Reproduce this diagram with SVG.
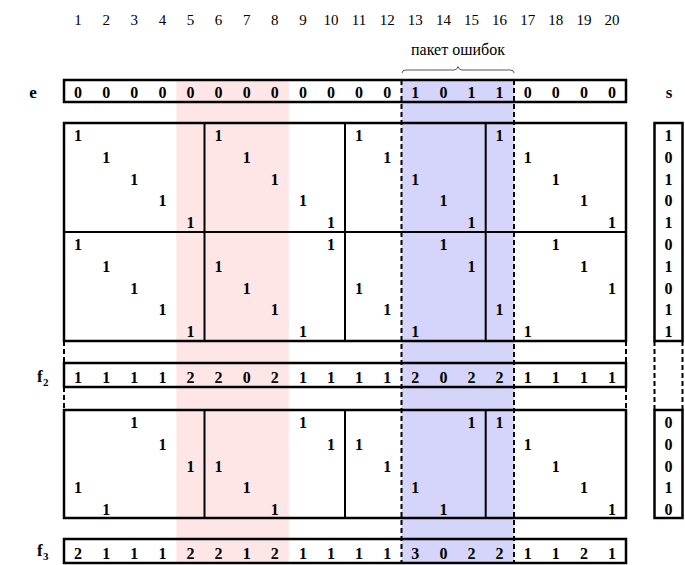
<svg xmlns="http://www.w3.org/2000/svg" width="685" height="565" viewBox="0 0 685 565" font-family="'Liberation Serif', 'DejaVu Serif', serif">
<style>
.hd{font-size:15px;text-anchor:middle;fill:#000}
.d{font-size:16px;font-weight:bold;text-anchor:middle;fill:#000}
.lb{font-size:17px;font-weight:bold;fill:#000}
.sub{font-size:11px;font-weight:bold;fill:#000}
.box{fill:none;stroke:#000;stroke-width:2.5}
.ln{fill:none;stroke:#000;stroke-width:2}
.dash{fill:none;stroke:#000;stroke-width:2;stroke-dasharray:5 3}
</style>
<rect width="685" height="565" fill="#fff"/>
<g id="bands">
<rect x="176.4" y="80" width="112.4" height="483" fill="#ffe6e6"/>
<rect x="401.5" y="80" width="112.5" height="483" fill="#d5d5fb"/>
</g>
<g id="header">
<text class="hd" x="78.1" y="25">1</text><text class="hd" x="106.2" y="25">2</text><text class="hd" x="134.3" y="25">3</text><text class="hd" x="162.4" y="25">4</text><text class="hd" x="190.5" y="25">5</text><text class="hd" x="218.6" y="25">6</text><text class="hd" x="246.7" y="25">7</text><text class="hd" x="274.8" y="25">8</text><text class="hd" x="302.9" y="25">9</text><text class="hd" x="331" y="25">10</text><text class="hd" x="359.1" y="25">11</text><text class="hd" x="387.2" y="25">12</text><text class="hd" x="415.3" y="25">13</text><text class="hd" x="443.4" y="25">14</text><text class="hd" x="471.5" y="25">15</text><text class="hd" x="499.6" y="25">16</text><text class="hd" x="527.7" y="25">17</text><text class="hd" x="555.8" y="25">18</text><text class="hd" x="583.9" y="25">19</text><text class="hd" x="612" y="25">20</text>
<text class="hd" x="458" y="55" style="font-size:16px">пакет ошибок</text>
<path d="M402,73 Q402,70 406,70 L454,70 Q457,70 458,66.5 Q459,70 462,70 L510,70 Q514,70 514,73" fill="none" stroke="#555" stroke-width="1"/>
</g>
<g id="labels">
<text class="lb" x="33" y="98" text-anchor="middle">e</text>
<text class="lb" x="669" y="98" text-anchor="middle">s</text>
<text class="lb" x="37" y="382">f</text><text class="sub" x="43" y="386">2</text>
<text class="lb" x="37" y="556">f</text><text class="sub" x="43" y="560">3</text>
</g>
<g id="row-e">
<rect class="box" x="64" y="80" width="562" height="22"/>
<text class="d" y="97.5"><tspan x="78.1">0</tspan><tspan x="106.2">0</tspan><tspan x="134.3">0</tspan><tspan x="162.4">0</tspan><tspan x="190.5">0</tspan><tspan x="218.6">0</tspan><tspan x="246.7">0</tspan><tspan x="274.8">0</tspan><tspan x="302.9">0</tspan><tspan x="331">0</tspan><tspan x="359.1">0</tspan><tspan x="387.2">0</tspan><tspan x="415.3">1</tspan><tspan x="443.4">0</tspan><tspan x="471.5">1</tspan><tspan x="499.6">1</tspan><tspan x="527.7">0</tspan><tspan x="555.8">0</tspan><tspan x="583.9">0</tspan><tspan x="612">0</tspan></text>
</g>
<g id="matrix-1">
<rect class="box" x="64" y="123" width="562" height="218"/>
<path class="ln" d="M64,232 H626 M204.5,123 V341 M345,123 V341 M485.7,123 V341"/>
<text class="d" y="141"><tspan x="78.1">1</tspan><tspan x="218.6">1</tspan><tspan x="359.1">1</tspan><tspan x="499.6">1</tspan></text>
<text class="d" y="162.8"><tspan x="106.2">1</tspan><tspan x="246.7">1</tspan><tspan x="387.2">1</tspan><tspan x="527.7">1</tspan></text>
<text class="d" y="184.6"><tspan x="134.3">1</tspan><tspan x="274.8">1</tspan><tspan x="415.3">1</tspan><tspan x="555.8">1</tspan></text>
<text class="d" y="206.4"><tspan x="162.4">1</tspan><tspan x="302.9">1</tspan><tspan x="443.4">1</tspan><tspan x="583.9">1</tspan></text>
<text class="d" y="228.2"><tspan x="190.5">1</tspan><tspan x="331">1</tspan><tspan x="471.5">1</tspan><tspan x="612">1</tspan></text>
<text class="d" y="250"><tspan x="78.1">1</tspan><tspan x="331">1</tspan><tspan x="443.4">1</tspan><tspan x="555.8">1</tspan></text>
<text class="d" y="271.8"><tspan x="106.2">1</tspan><tspan x="218.6">1</tspan><tspan x="471.5">1</tspan><tspan x="583.9">1</tspan></text>
<text class="d" y="293.6"><tspan x="134.3">1</tspan><tspan x="246.7">1</tspan><tspan x="359.1">1</tspan><tspan x="612">1</tspan></text>
<text class="d" y="315.4"><tspan x="162.4">1</tspan><tspan x="274.8">1</tspan><tspan x="387.2">1</tspan><tspan x="499.6">1</tspan></text>
<text class="d" y="337.2"><tspan x="190.5">1</tspan><tspan x="302.9">1</tspan><tspan x="415.3">1</tspan><tspan x="527.7">1</tspan></text>
</g>
<g id="s-1">
<rect class="box" x="654.5" y="123" width="28" height="218"/>
<text class="d" x="668.5" y="141">1</text><text class="d" x="668.5" y="162.8">0</text><text class="d" x="668.5" y="184.6">1</text><text class="d" x="668.5" y="206.4">0</text><text class="d" x="668.5" y="228.2">1</text><text class="d" x="668.5" y="250">0</text><text class="d" x="668.5" y="271.8">1</text><text class="d" x="668.5" y="293.6">0</text><text class="d" x="668.5" y="315.4">1</text><text class="d" x="668.5" y="337.2">1</text>
</g>
<g id="row-f2">
<rect class="box" x="64" y="363" width="562" height="24"/>
<text class="d" y="383"><tspan x="78.1">1</tspan><tspan x="106.2">1</tspan><tspan x="134.3">1</tspan><tspan x="162.4">1</tspan><tspan x="190.5">2</tspan><tspan x="218.6">2</tspan><tspan x="246.7">0</tspan><tspan x="274.8">2</tspan><tspan x="302.9">1</tspan><tspan x="331">1</tspan><tspan x="359.1">1</tspan><tspan x="387.2">1</tspan><tspan x="415.3">2</tspan><tspan x="443.4">0</tspan><tspan x="471.5">2</tspan><tspan x="499.6">2</tspan><tspan x="527.7">1</tspan><tspan x="555.8">1</tspan><tspan x="583.9">1</tspan><tspan x="612">1</tspan></text>
</g>
<g id="matrix-2">
<rect class="box" x="64" y="410" width="562" height="108"/>
<path class="ln" d="M204.5,410 V518 M345,410 V518 M485.7,410 V518"/>
<text class="d" y="428"><tspan x="134.3">1</tspan><tspan x="302.9">1</tspan><tspan x="471.5">1</tspan><tspan x="499.6">1</tspan></text>
<text class="d" y="449.8"><tspan x="162.4">1</tspan><tspan x="331">1</tspan><tspan x="359.1">1</tspan><tspan x="527.7">1</tspan></text>
<text class="d" y="471.6"><tspan x="190.5">1</tspan><tspan x="218.6">1</tspan><tspan x="387.2">1</tspan><tspan x="555.8">1</tspan></text>
<text class="d" y="493.4"><tspan x="78.1">1</tspan><tspan x="246.7">1</tspan><tspan x="415.3">1</tspan><tspan x="583.9">1</tspan></text>
<text class="d" y="515.2"><tspan x="106.2">1</tspan><tspan x="274.8">1</tspan><tspan x="443.4">1</tspan><tspan x="612">1</tspan></text>
</g>
<g id="s-2">
<rect class="box" x="654.5" y="410" width="28" height="108"/>
<text class="d" x="668.5" y="428">0</text><text class="d" x="668.5" y="449.8">0</text><text class="d" x="668.5" y="471.6">0</text><text class="d" x="668.5" y="493.4">1</text><text class="d" x="668.5" y="515.2">0</text>
</g>
<g id="row-f3">
<rect class="box" x="64" y="539" width="562" height="24"/>
<text class="d" y="559"><tspan x="78.1">2</tspan><tspan x="106.2">1</tspan><tspan x="134.3">1</tspan><tspan x="162.4">1</tspan><tspan x="190.5">2</tspan><tspan x="218.6">2</tspan><tspan x="246.7">1</tspan><tspan x="274.8">2</tspan><tspan x="302.9">1</tspan><tspan x="331">1</tspan><tspan x="359.1">1</tspan><tspan x="387.2">1</tspan><tspan x="415.3">3</tspan><tspan x="443.4">0</tspan><tspan x="471.5">2</tspan><tspan x="499.6">2</tspan><tspan x="527.7">1</tspan><tspan x="555.8">1</tspan><tspan x="583.9">2</tspan><tspan x="612">1</tspan></text>
</g>
<g id="connectors">
<path class="dash" d="M64,341 V363 M64,387 V410 M626,341 V363 M626,387 V410 M654.5,341 V410 M682.5,341 V410"/>
<path class="dash" d="M401.5,80 V563 M514,80 V563"/>
</g>
</svg>
